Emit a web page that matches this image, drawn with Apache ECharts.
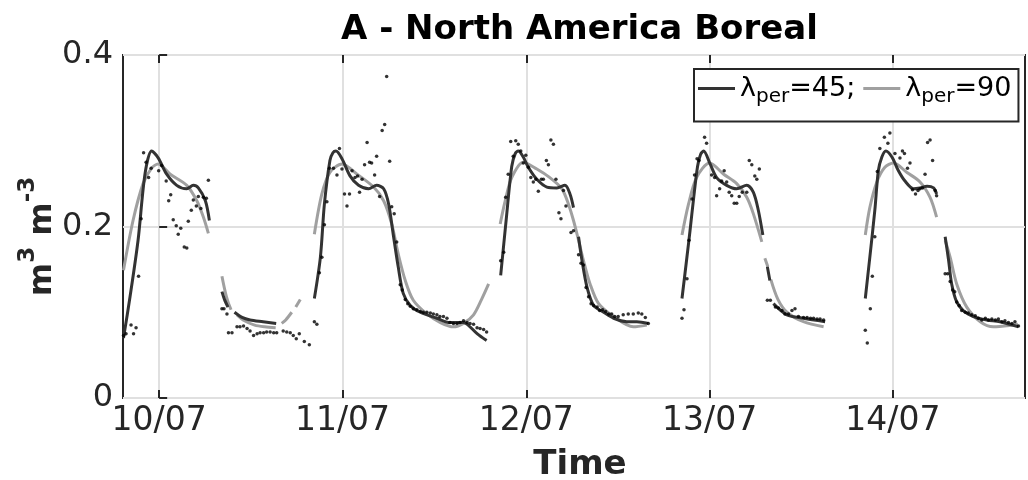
<!DOCTYPE html>
<html>
<head>
<meta charset="utf-8">
<script src="https://cdn.jsdelivr.net/npm/echarts@6.0.0/dist/echarts.min.js"></script>
<style>
  html, body { margin: 0; padding: 0; background: #fff; }
  #chart { width: 1028px; height: 480px; }
</style>
</head>
<body>
<div id="chart"></div>
<script>
// x values are days since 2010-07-01
const tickDays = [0, 365, 731, 1096, 1461];
const tickLabels = ['10/07', '11/07', '12/07', '13/07', '14/07'];
const yTicks = [0, 0.2, 0.4];

// observed soil moisture (m3 m-3)
const obs2010 = [[-71,0.073],[-66,0.075],[-56,0.085],[-51,0.075],[-46,0.082],[-41,0.142],[-36,0.209],[-31,0.286],[-26,0.275],[-21,0.257],[-16,0.268],[-1,0.265],[5,0.271],[14,0.253],[19,0.230],[23,0.237],[28,0.208],[34,0.201],[38,0.191],[43,0.198],[50,0.176],[55,0.175],[58,0.206],[64,0.219],[68,0.231],[74,0.224],[78,0.235],[83,0.221],[88,0.234],[94,0.233],[98,0.254]];
const obsW2010 = [[125,0.104],[129,0.104],[135,0.098],[138,0.076],[145,0.076],[155,0.083],[161,0.083],[168,0.084],[175,0.081],[181,0.078],[188,0.073],[195,0.075],[201,0.076],[208,0.076],[214,0.077],[221,0.077],[228,0.076],[234,0.076],[247,0.078],[254,0.077],[261,0.076],[267,0.073],[273,0.069],[279,0.075],[289,0.066],[299,0.062]];
const obs2011 = [[309,0.089],[314,0.086],[319,0.146],[324,0.164],[329,0.202],[334,0.229],[339,0.268],[347,0.268],[354,0.260],[359,0.291],[364,0.267],[369,0.238],[374,0.224],[379,0.238],[384,0.265],[390,0.257],[395,0.259],[399,0.240],[404,0.255],[409,0.272],[414,0.298],[419,0.275],[423,0.274],[429,0.260],[433,0.282],[439,0.235],[444,0.312],[449,0.319],[453,0.375],[459,0.276],[463,0.223],[468,0.215],[473,0.182],[480,0.132],[484,0.126],[490,0.115],[495,0.110],[500,0.107],[506,0.104],[513,0.103],[520,0.101],[526,0.100],[533,0.100],[540,0.099],[546,0.098],[553,0.097],[559,0.095],[566,0.095],[573,0.093],[579,0.088],[586,0.087],[593,0.087],[599,0.088],[606,0.090],[613,0.088],[619,0.087],[626,0.086],[633,0.082],[639,0.081],[646,0.080],[652,0.077]];
const obs2012 = [[680,0.160],[686,0.170],[690,0.234],[695,0.261],[700,0.299],[705,0.282],[710,0.300],[715,0.296],[720,0.288],[725,0.274],[730,0.283],[735,0.269],[740,0.257],[745,0.252],[750,0.255],[755,0.241],[761,0.255],[765,0.255],[771,0.277],[775,0.272],[780,0.301],[785,0.296],[790,0.255],[796,0.216],[800,0.209],[805,0.242],[810,0.224],[820,0.193],[825,0.195],[835,0.167],[840,0.157],[845,0.155],[850,0.129],[855,0.118],[860,0.110],[865,0.108],[872,0.106],[877,0.102],[883,0.103],[889,0.101],[895,0.098],[901,0.098],[907,0.095],[914,0.095],[924,0.097],[934,0.098],[944,0.098],[954,0.099],[961,0.098],[968,0.094],[974,0.087]];
const obs2013 = [[1041,0.093],[1045,0.103],[1051,0.139],[1055,0.184],[1061,0.232],[1066,0.260],[1071,0.279],[1075,0.277],[1086,0.304],[1090,0.297],[1100,0.260],[1106,0.257],[1110,0.236],[1116,0.244],[1120,0.253],[1125,0.265],[1130,0.252],[1135,0.240],[1140,0.236],[1145,0.227],[1150,0.227],[1155,0.235],[1161,0.240],[1170,0.240],[1175,0.277],[1180,0.272],[1186,0.259],[1190,0.255],[1195,0.267]];
const obsW2013 = [[1211,0.114],[1217,0.114],[1227,0.106],[1233,0.105],[1240,0.102],[1246,0.098],[1253,0.098],[1260,0.102],[1266,0.104],[1273,0.095],[1283,0.094],[1290,0.094],[1297,0.093],[1303,0.093],[1310,0.092],[1316,0.092],[1323,0.091]];
const obs2014 = [[1406,0.079],[1410,0.064],[1416,0.104],[1420,0.142],[1425,0.188],[1430,0.264],[1435,0.291],[1444,0.304],[1451,0.297],[1455,0.309],[1465,0.285],[1475,0.280],[1480,0.288],[1484,0.285],[1490,0.268],[1495,0.274],[1500,0.243],[1506,0.238],[1511,0.242],[1515,0.244],[1520,0.245],[1525,0.261],[1530,0.298],[1535,0.301],[1540,0.277],[1545,0.242],[1548,0.236]];
const obsW2014 = [[1565,0.145],[1570,0.145],[1575,0.136],[1580,0.126],[1584,0.124],[1588,0.112],[1593,0.108],[1598,0.102],[1605,0.100],[1611,0.099],[1618,0.097],[1625,0.096],[1631,0.093],[1638,0.091],[1645,0.093],[1651,0.091],[1658,0.092],[1665,0.091],[1671,0.092],[1678,0.089],[1684,0.090],[1691,0.088],[1698,0.087],[1704,0.089],[1711,0.084]];

// fitted curve, lambda_per = 45 (segments break where data are missing)
const fit45Segments = [
  [[-71,0.070],[-58,0.118],[-42,0.184],[-28,0.262],[-15,0.288],[-2,0.280],[15,0.261],[35,0.248],[55,0.244],[68,0.248],[78,0.245],[92,0.230],[100,0.207]],
  [[125,0.124],[130,0.115],[137,0.106]],
  [[150,0.100],[165,0.094],[181,0.091],[207,0.089],[233,0.087]],
  [[309,0.116],[321,0.164],[329,0.226],[340,0.277],[346,0.286],[352,0.288],[364,0.279],[380,0.259],[397,0.248],[417,0.244],[433,0.248],[447,0.244],[457,0.226],[466,0.191],[476,0.153],[486,0.122],[500,0.108],[520,0.100],[553,0.093],[579,0.088],[606,0.088],[619,0.083],[633,0.075],[652,0.067]],
  [[680,0.143],[691,0.208],[702,0.270],[709,0.285],[715,0.288],[725,0.281],[735,0.269],[752,0.255],[772,0.246],[792,0.245],[808,0.248],[818,0.238],[825,0.222]],
  [[835,0.188],[842,0.160],[852,0.129],[865,0.108],[885,0.100],[905,0.093],[931,0.089],[951,0.089],[974,0.087]],
  [[1041,0.116],[1051,0.165],[1057,0.195],[1064,0.232],[1072,0.270],[1078,0.284],[1084,0.288],[1097,0.273],[1110,0.257],[1130,0.248],[1150,0.244],[1170,0.248],[1183,0.240],[1193,0.219],[1202,0.190]],
  [[1211,0.153],[1216,0.137]],
  [[1223,0.110],[1250,0.097],[1283,0.093],[1326,0.089]],
  [[1406,0.116],[1415,0.164],[1425,0.219],[1432,0.265],[1439,0.281],[1447,0.288],[1459,0.281],[1472,0.265],[1485,0.253],[1502,0.244],[1515,0.245],[1529,0.247],[1542,0.245],[1548,0.238]],
  [[1565,0.188],[1572,0.160],[1578,0.133],[1588,0.112],[1601,0.102],[1621,0.095],[1648,0.091],[1674,0.089],[1711,0.083]]
];

// fitted curve, lambda_per = 90
const fit90Segments = [
  [[-71,0.149],[-52,0.207],[-32,0.250],[-15,0.268],[-2,0.273],[22,0.261],[55,0.248],[75,0.230],[88,0.211],[98,0.192]],
  [[125,0.142],[134,0.118],[143,0.103]],
  [[155,0.097],[170,0.090],[190,0.085],[210,0.083],[232,0.082]],
  [[244,0.087],[252,0.091],[264,0.100]],
  [[272,0.106],[281,0.115]],
  [[309,0.191],[324,0.238],[340,0.263],[364,0.273],[394,0.261],[427,0.246],[447,0.230],[463,0.203],[476,0.168],[490,0.137],[506,0.114],[533,0.098],[560,0.088],[586,0.083],[606,0.087],[626,0.097],[642,0.115],[656,0.133]],
  [[679,0.203],[689,0.230],[702,0.257],[725,0.275],[752,0.267],[778,0.257],[802,0.244],[815,0.226],[825,0.207],[835,0.184],[845,0.160],[858,0.133],[875,0.110],[905,0.095],[944,0.083],[971,0.085]],
  [[1041,0.190],[1054,0.226],[1070,0.257],[1096,0.274],[1124,0.261],[1150,0.250],[1170,0.234],[1183,0.215],[1200,0.182]],
  [[1206,0.163],[1212,0.153]],
  [[1218,0.138],[1232,0.115],[1250,0.100],[1283,0.089],[1323,0.083]],
  [[1406,0.190],[1415,0.222],[1429,0.252],[1445,0.269],[1462,0.274],[1489,0.263],[1515,0.252],[1535,0.234],[1548,0.211]],
  [[1565,0.184],[1575,0.164],[1588,0.133],[1608,0.106],[1635,0.089],[1661,0.083],[1701,0.085],[1710,0.086]]
];

// join segments with an empty point so the line breaks between them
function joinSegments(segs) {
  const out = [];
  segs.forEach((seg, i) => {
    if (i > 0) {
      const prev = segs[i - 1];
      out.push([(prev[prev.length - 1][0] + seg[0][0]) / 2, '-']);
    }
    seg.forEach(p => out.push(p));
  });
  return out;
}

const observed = [].concat(obs2010, obsW2010, obs2011, obs2012, obs2013, obsW2013, obs2014, obsW2014);

const FONT = 'DejaVu Sans';
const INK = '#262626';

const chart = echarts.init(document.getElementById('chart'), null, { renderer: 'canvas' });

const option = {
  animation: false,
  backgroundColor: '#fff',
  title: {
    text: 'A - North America Boreal',
    left: 341,
    top: 13,
    padding: 0,
    textStyle: { fontFamily: FONT, fontWeight: 'bold', fontSize: 34, color: '#000' }
  },
  legend: {
    data: ['λper=45', 'λper=90'],
    left: 694,
    top: 69,
    width: 330,
    orient: 'horizontal',
    padding: [6, 7, 15, 4],
    itemGap: 8,
    itemWidth: 37,
    itemHeight: 3,
    icon: 'rect',
    backgroundColor: '#fff',
    borderColor: INK,
    borderWidth: 2,
    borderRadius: 0,
    formatter: name => name === 'λper=45' ? '{l|λ}{s|per}{l|=45;}' : '{l|λ}{s|per}{l|=90}',
    textStyle: {
      fontFamily: FONT, fontSize: 27, color: '#000',
      rich: {
        l: { fontFamily: FONT, fontSize: 27, lineHeight: 36, color: '#000' },
        s: { fontFamily: FONT, fontSize: 20, lineHeight: 12, verticalAlign: 'bottom', color: '#000' }
      }
    }
  },
  grid: {
    left: 123, right: 3, top: 55, bottom: 82,
    show: true,
    borderColor: INK,
    borderWidth: 2,
    backgroundColor: '#fff',
    outerBoundsMode: 'none'
  },
  xAxis: [
    {
      type: 'value',
      min: -72,
      max: 1724,
      axisLine: { show: false },
      axisTick: { show: true, inside: true, length: 8, customValues: tickDays, lineStyle: { color: INK, width: 2 } },
      axisLabel: {
        customValues: tickDays,
        formatter: v => tickLabels[tickDays.indexOf(v)] || '',
        fontFamily: FONT, fontSize: 33, color: INK, margin: 7
      },
      splitLine: { show: true, lineStyle: { color: '#e0e0e0', width: 2 } },
      name: 'Time',
      nameLocation: 'middle',
      nameGap: 50,
      nameTextStyle: { fontFamily: FONT, fontWeight: 'bold', fontSize: 34, color: INK, padding: [0, 0, 0, 12] }
    },
    {
      type: 'value',
      position: 'top',
      min: -72,
      max: 1724,
      axisLine: { show: false },
      axisTick: { show: true, inside: true, length: 8, customValues: tickDays, lineStyle: { color: INK, width: 2 } },
      axisLabel: { show: false },
      splitLine: { show: false }
    }
  ],
  yAxis: {
    type: 'value',
    min: 0,
    max: 0.4,
    interval: 0.2,
    axisLine: { show: false },
    axisTick: { show: true, inside: true, length: 8, lineStyle: { color: INK, width: 2 } },
    axisLabel: {
      formatter: v => (v === 0 ? '0' : v.toFixed(1)),
      fontFamily: FONT, fontSize: 32, color: INK, margin: 10
    },
    splitLine: { show: true, lineStyle: { color: '#e0e0e0', width: 2 } },
    name: 'm{sup|3} m{sup|-3}',
    nameLocation: 'middle',
    nameGap: 54,
    nameMoveOverlap: false,
    nameTextStyle: {
      fontFamily: FONT, fontWeight: 'bold', fontSize: 32, lineHeight: 52, color: INK,
      padding: [0, 20, 0, 0],
      rich: {
        sup: { fontFamily: FONT, fontWeight: 'bold', fontSize: 23, lineHeight: 16, verticalAlign: 'top', color: INK }
      }
    }
  },
  series: [
    {
      name: 'λper=90',
      type: 'line',
      data: joinSegments(fit90Segments),
      showSymbol: false,
      smooth: 0.3,
      connectNulls: false,
      lineStyle: { color: '#a0a0a0', width: 3 },
      itemStyle: { color: '#a0a0a0' },
      z: 2
    },
    {
      name: 'λper=45',
      type: 'line',
      data: joinSegments(fit45Segments),
      showSymbol: false,
      smooth: 0.3,
      connectNulls: false,
      lineStyle: { color: '#333333', width: 3 },
      itemStyle: { color: '#333333' },
      z: 3
    },
    {
      name: 'observed',
      type: 'scatter',
      data: observed,
      symbol: 'circle',
      symbolSize: 3.5,
      itemStyle: { color: '#000' },
      z: 4
    }
  ]
};

chart.setOption(option);
</script>
</body>
</html>
